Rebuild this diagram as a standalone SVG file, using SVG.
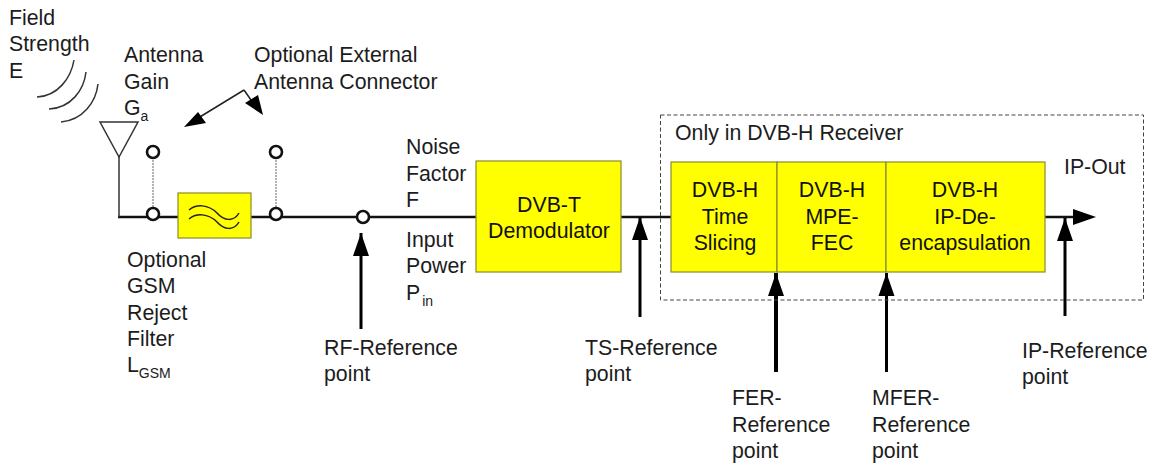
<svg xmlns="http://www.w3.org/2000/svg" width="1150" height="463" viewBox="0 0 1150 463">
<style>
text{font-family:"Liberation Sans",Arial,sans-serif;font-size:21.3px;fill:#1c1c1c}
.c{text-anchor:middle;fill:#111}
.s{font-size:14px}
.box{fill:#ffff00;stroke:#8a8a30;stroke-width:1.2}
.w{fill:none;stroke:#111;stroke-width:2.4}
.thin{fill:none;stroke:#333;stroke-width:1.5}
.dot{fill:none;stroke:#999;stroke-width:1.5;stroke-dasharray:2 1}
.t{fill:#fff;stroke:#111;stroke-width:2.6}
.a{fill:none;stroke:#000;stroke-width:3;marker-end:url(#ah)}
</style>
<defs>
<marker id="ah" markerUnits="userSpaceOnUse" markerWidth="23" markerHeight="16" refX="23" refY="8" viewBox="0 0 23 16" orient="auto" overflow="visible"><path d="M0 0L23 8L0 16Z" fill="#000"/></marker>
</defs>
<rect width="1150" height="463" fill="#fff"/>
<g id="connectors">
<path class="w" d="M118 217H178M251 217H476M621 217H671M1044 217H1076"/>
<path class="thin" d="M119 157V217"/>
<path class="dot" d="M153 160V207M276 160V207"/>
<path class="a" d="M361 329V233"/>
<path class="a" d="M640 317V217"/>
<path class="a" style="stroke-width:4" d="M776 372V273"/>
<path class="a" d="M886.500 372V273"/>
<path class="a" d="M1065 316V218"/>
<path d="M1073 209L1096 217L1073 225Z" fill="#000"/>
<path d="M244 90L190 123M244 90L258 110" fill="none" stroke="#222" stroke-width="1.500"/>
<path d="M184 127L198 112L206 123Z M263 115L245 103L258 95Z" fill="#000"/>
</g>
<g id="field-waves"><path class="thin" d="M74 60C71 78 58 96 37 97M86 72C84 90 71 108 49 109M98 84C96 102 83 120 61 122"/></g>
<g id="antenna"><path class="thin" d="M100 122H138L119 157Z"/></g>
<g id="terminals">
<circle class="t" cx="153" cy="152" r="6"/><circle class="t" cx="153" cy="214" r="6"/>
<circle class="t" cx="276" cy="152" r="6"/><circle class="t" cx="276" cy="214" r="6"/>
<circle class="t" cx="363" cy="217" r="6"/>
</g>
<g id="filter"><rect class="box" x="178" y="193" width="73" height="45"/>
<path d="M189 210C196 204 208 204 217 213C224 221 234 222 239 213M189 219C196 213 208 213 217 222C224 230 234 231 239 222" fill="none" stroke="#222" stroke-width="1.500"/></g>
<g id="demod"><rect class="box" x="476" y="161" width="145" height="111"/>
<text class="c" x="549" y="212">DVB-T</text><text class="c" x="549" y="238">Demodulator</text></g>
<g id="receiver-frame"><rect x="660.500" y="115" width="483" height="185" fill="none" stroke="#444" stroke-width="1" stroke-dasharray="4 2.500"/>
<text x="675" y="140">Only in DVB-H Receiver</text></g>
<g id="time-slicing"><rect class="box" x="671" y="162" width="106" height="110"/>
<text class="c" x="725" y="197">DVB-H</text><text class="c" x="725" y="224">Time</text><text class="c" x="725" y="250">Slicing</text></g>
<g id="mpe-fec"><rect class="box" x="777" y="162" width="109" height="110"/>
<text class="c" x="832" y="197">DVB-H</text><text class="c" x="832" y="224">MPE-</text><text class="c" x="832" y="250">FEC</text></g>
<g id="ip-decap"><rect class="box" x="886" y="162" width="159" height="110"/>
<text class="c" x="965" y="197">DVB-H</text><text class="c" x="965" y="224">IP-De-</text><text class="c" x="965" y="250">encapsulation</text></g>
<g id="labels">
<text x="9" y="25">Field</text><text x="9" y="51">Strength</text><text x="9" y="78">E</text>
<text x="124" y="62">Antenna</text><text x="124" y="89">Gain</text><text x="124" y="115">G<tspan class="s" dy="6">a</tspan></text>
<text x="254" y="62">Optional External</text><text x="254" y="89">Antenna Connector</text>
<text x="406" y="154">Noise</text><text x="406" y="181">Factor</text><text x="406" y="207">F</text>
<text x="406" y="247">Input</text><text x="406" y="273">Power</text><text x="406" y="300">P<tspan class="s" dy="6" dx="2">in</tspan></text>
<text x="127" y="267">Optional</text><text x="127" y="293">GSM</text><text x="127" y="320">Reject</text><text x="127" y="346">Filter</text><text x="127" y="372">L<tspan class="s" dy="6">GSM</tspan></text>
<text x="324" y="355">RF-Reference</text><text x="324" y="381">point</text>
<text x="585" y="355">TS-Reference</text><text x="585" y="381">point</text>
<text x="732" y="405">FER-</text><text x="732" y="432">Reference</text><text x="732" y="458">point</text>
<text x="872" y="405">MFER-</text><text x="872" y="432">Reference</text><text x="872" y="458">point</text>
<text x="1022" y="358">IP-Reference</text><text x="1022" y="384">point</text>
<text x="1064" y="174">IP-Out</text>
</g>
</svg>
